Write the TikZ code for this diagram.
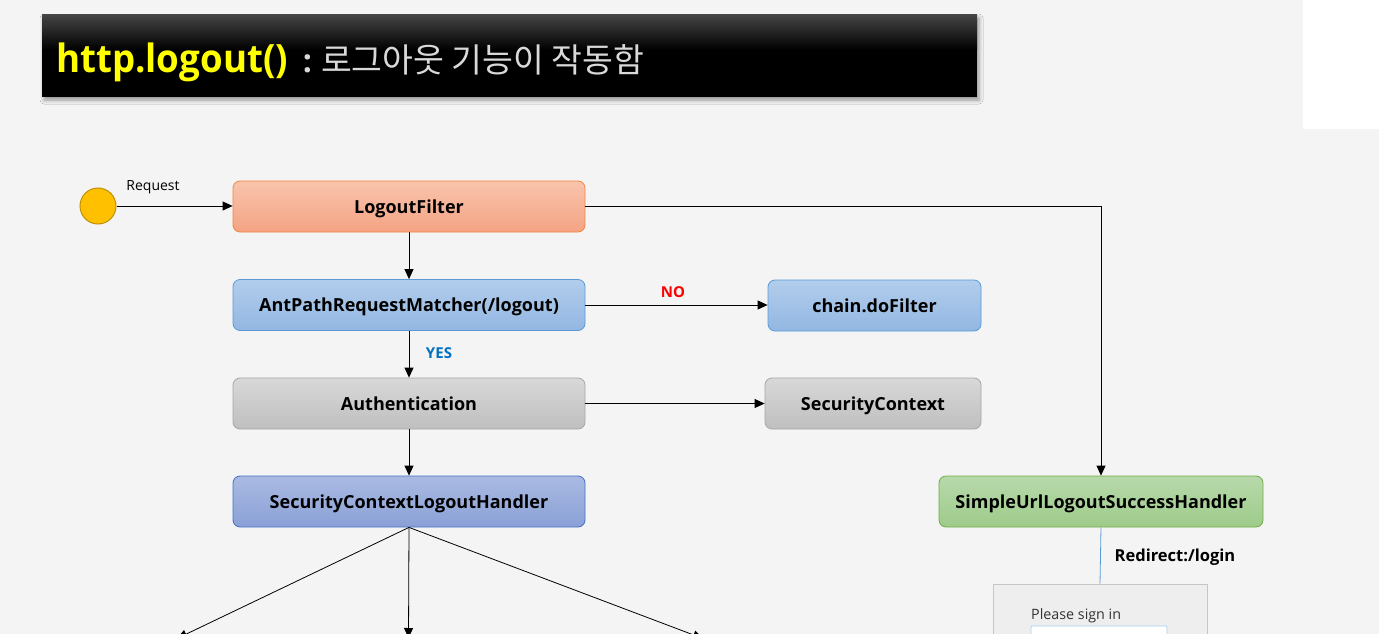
\documentclass[tikz,border=0pt]{standalone}
\usepackage{fontspec}
\setmainfont{Open Sans}
\newfontfamily\kr{Noto Sans CJK KR}
\newfontfamily\ttlfont[FakeStretch=0.94]{Open Sans}
\usetikzlibrary{arrows.meta,shadows,shadows.blur,calc}
\definecolor{bg}{HTML}{F4F4F4}
\definecolor{ttltop}{HTML}{444444}
\definecolor{ttlyellow}{HTML}{FFFF00}
\definecolor{ttlgray}{HTML}{D9D9D9}
\definecolor{circfill}{HTML}{FFC000}
\definecolor{circline}{HTML}{BF9000}
\definecolor{orgT}{HTML}{F9C4AD}
\definecolor{orgB}{HTML}{F4A383}
\definecolor{orgL}{HTML}{F0883F}
\definecolor{bluT}{HTML}{B2CDEC}
\definecolor{bluB}{HTML}{93B7E2}
\definecolor{bluL}{HTML}{5B9BD5}
\definecolor{gryT}{HTML}{D8D8D8}
\definecolor{gryB}{HTML}{BFBFBF}
\definecolor{gryL}{HTML}{A6A6A6}
\definecolor{indT}{HTML}{AABAE2}
\definecolor{indB}{HTML}{8AA0D6}
\definecolor{indL}{HTML}{4472C4}
\definecolor{grnT}{HTML}{B7D9AB}
\definecolor{grnB}{HTML}{9ECB8A}
\definecolor{grnL}{HTML}{70AD47}
\definecolor{noRed}{HTML}{FF0000}
\definecolor{yesBlue}{HTML}{0070C0}
\definecolor{sgnFill}{HTML}{EEEEEE}
\definecolor{sgnLine}{HTML}{C6C6C6}
\definecolor{inLine}{HTML}{A9D1F5}
\tikzset{
  box/.style={draw, rounded corners=7pt, minimum height=51pt, inner sep=0pt,
    line width=0.8pt, font=\bfseries\fontsize{18}{22}\selectfont, text=black,
    text height=13pt, text depth=0pt},
  orgbox/.style={box, top color=orgT, bottom color=orgB, draw=orgL},
  blubox/.style={box, top color=bluT, bottom color=bluB, draw=bluL},
  grybox/.style={box, top color=gryT, bottom color=gryB, draw=gryL},
  indbox/.style={box, top color=indT, bottom color=indB, draw=indL},
  grnbox/.style={box, top color=grnT, bottom color=grnB, draw=grnL},
  arr/.style={-{Triangle[length=10pt,width=9pt]}, line width=0.8pt},
  lbl/.style={font=\bfseries\fontsize{15}{18}\selectfont, inner sep=0pt}
}
\begin{document}
\begin{tikzpicture}[x=1pt,y=-1pt]
\useasboundingbox (0,0) rectangle (1379,634);
\clip (0,0) rectangle (1379,634);
\fill[bg] (0,0) rectangle (1379,634);
\fill[white] (1303,0) rectangle (1379,129);

% title bar
\node[fill=black, minimum width=935pt, minimum height=82pt, inner sep=0pt,
  blur shadow={shadow xshift=2pt, shadow yshift=-3pt, shadow blur radius=4pt}]
  (ttl) at (509.5,56) {};
\shade[top color=ttltop, bottom color=black] (42,15) rectangle (977,50);
\node[anchor=base west, inner sep=0pt] (ttltext) at (56,73)
  {{\color{ttlyellow}\ttlfont\bfseries\fontsize{39}{44}\selectfont http.logout()}%
   \hspace{15pt}{\color{ttlgray}\bfseries\fontsize{32}{36}\selectfont :}\hspace{9pt}%
   {\color{ttlgray}\kr\fontsize{33.5}{38}\selectfont 로그아웃 기능이 작동함}};

% start circle
\node[circle, fill=circfill, draw=circline, line width=1pt, minimum size=36pt, inner sep=0pt]
  (start) at (98,206) {};
\node[font=\fontsize{14}{17}\selectfont, inner sep=0pt] (reqlbl) at (153,187) {Request};

% boxes
\node[orgbox, minimum width=352pt] (lf) at (409,206.5) {LogoutFilter};
\node[blubox, minimum width=352pt] (apm) at (409,305) {AntPathRequestMatcher(/logout)};
\node[blubox, minimum width=213pt] (chain) at (874.5,305.5) {chain.doFilter};
\node[grybox, minimum width=352pt] (auth) at (409,403.5) {Authentication};
\node[grybox, minimum width=216pt] (sc) at (873,403.5) {SecurityContext};
\node[indbox, minimum width=352pt] (sclh) at (409,501.5) {SecurityContextLogoutHandler};
\node[grnbox, minimum width=324pt] (su) at (1101,501.5) {SimpleUrlLogoutSuccessHandler};

% connectors
\draw[arr] (start.east) -- (start.east -| lf.west);
\draw[arr] (lf.east) -| (su.north);
\draw[arr] (lf.south) -- (apm.north);
\draw[arr] (apm.east) -- (apm.east -| chain.west);
\node[lbl, text=noRed] (nolbl) at (673,292) {NO};
\draw[arr] (apm.south) -- (auth.north);
\node[lbl, text=yesBlue] (yeslbl) at (439,353) {YES};
\draw[arr] (auth.east) -- (auth.east -| sc.west);
\draw[arr] (auth.south) -- (sclh.north);

\coordinate (o1) at (177,638.5);
\coordinate (o2) at (408.5,638);
\coordinate (o3) at (703,638.5);
\draw[arr] (sclh.south) -- (o1);
\draw[arr] (sclh.south) -- (o2);
\draw[arr] (sclh.south) -- (o3);

% redirect to sign-in page
\node[draw=sgnLine, fill=sgnFill, line width=1pt, minimum width=214pt, minimum height=120pt, inner sep=0pt]
  (sgn) at (1100,644) {};
\draw[bluL, line width=0.8pt] (su.south) -- (sgn.north);
\node[font=\bfseries\fontsize{16.5}{20}\selectfont, inner sep=0pt] (redir) at (1175,557) {Redirect:/login};
\node[anchor=base west, inner sep=0pt, text={rgb,255:red,51;green,51;blue,51},
  font=\fontsize{14.3}{17}\selectfont] (please) at (1031,619) {Please sign in};
\node[draw=inLine, fill=white, line width=0.8pt, minimum width=136pt, minimum height=34pt,
  inner sep=0pt, rounded corners=1pt] (input) at (1099,643) {};
\node[anchor=base west, inner sep=0pt, text=gray!60, font=\fontsize{12}{14}\selectfont]
  (ph) at (1035,643) {Username};
\end{tikzpicture}
\end{document}
